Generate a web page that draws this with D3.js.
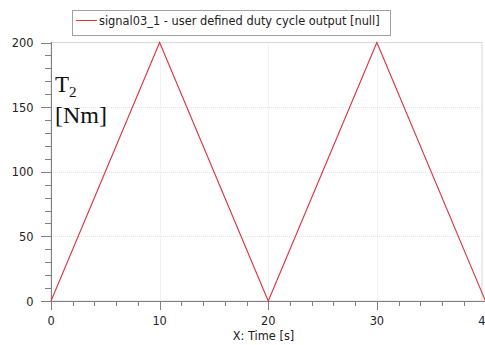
<!DOCTYPE html>
<html><head><meta charset="utf-8">
<script src="https://cdn.jsdelivr.net/npm/d3@7"></script>
<style>body{margin:0;background:#fff}svg{display:block}</style>
</head><body>
<script>
const timeValues = [0, 10, 20, 30, 40];
const signalValues = [0, 200, 0, 200, 0];
const xTicks = [0, 10, 20, 30, 40];
const yTicks = [0, 50, 100, 150, 200];
const legendLabel = "signal03_1 - user defined duty cycle output [null]";
const xTitle = "X: Time [s]";

const W = 485, H = 345;
const svg = d3.select("body").append("svg").attr("width", W).attr("height", H);
const x = d3.scaleLinear().domain([0, 40]).range([51, 485.5]);
const y = d3.scaleLinear().domain([0, 200]).range([301, 42.5]);
const font = "Tahoma, 'DejaVu Sans', Verdana, sans-serif";
const fs = 11.4;

// frame
svg.append("rect").attr("x", 51).attr("y", 42.5).attr("width", 431).attr("height", 258.5)
  .attr("fill", "none").attr("stroke", "#d8d8d8").attr("stroke-width", 1);

// grid
const g = svg.append("g");
g.selectAll(".gx").data(xTicks.filter(d => d > 0 && d < 40)).enter().append("line")
  .attr("x1", d => Math.round(x(d)) + 0.5).attr("x2", d => Math.round(x(d)) + 0.5)
  .attr("y1", 42.5).attr("y2", 301).attr("stroke", "#e4e4e4").attr("stroke-dasharray", "1,1");
g.selectAll(".gy").data(yTicks.filter(d => d > 0 && d < 200)).enter().append("line")
  .attr("y1", d => Math.round(y(d)) + 0.5).attr("y2", d => Math.round(y(d)) + 0.5)
  .attr("x1", 51).attr("x2", 482).attr("stroke", "#e4e4e4").attr("stroke-dasharray", "1,1");

// axes
const axisColor = "#808080";
const xMinor = d3.range(0, 41, 2);
const yMinor = d3.range(0, 201, 10);
const ax = svg.append("g");
ax.append("line").attr("x1", 51).attr("x2", 485).attr("y1", 301.5).attr("y2", 301.5).attr("stroke", axisColor);
ax.append("line").attr("x1", 51.5).attr("x2", 51.5).attr("y1", 42).attr("y2", 301).attr("stroke", axisColor);
ax.selectAll(".xt").data(xMinor).enter().append("line")
  .attr("x1", d => Math.round(x(d)) + 0.5).attr("x2", d => Math.round(x(d)) + 0.5)
  .attr("y1", 301).attr("y2", d => d % 10 === 0 ? 310 : 306).attr("stroke", axisColor);
ax.selectAll(".yt").data(yMinor).enter().append("line")
  .attr("y1", d => Math.round(y(d)) + 0.5).attr("y2", d => Math.round(y(d)) + 0.5)
  .attr("x1", d => d % 50 === 0 ? 41 : 45).attr("x2", 51).attr("stroke", axisColor);

ax.selectAll(".xl").data(xTicks).enter().append("text")
  .attr("x", d => x(d)).attr("y", 325).attr("text-anchor", "middle")
  .attr("font-family", font).attr("font-size", fs).attr("fill", "#222").text(d => d);
ax.selectAll(".yl").data(yTicks).enter().append("text")
  .attr("x", 33.5).attr("y", d => y(d) + 4.5).attr("text-anchor", "end")
  .attr("font-family", font).attr("font-size", fs).attr("fill", "#222").text(d => d);

svg.append("text").attr("x", 263.5).attr("y", 339.5).attr("text-anchor", "middle")
  .attr("font-family", font).attr("font-size", fs).attr("fill", "#222").text(xTitle);

// y title
const serif = "'Liberation Serif', 'Times New Roman', serif";
const yt = svg.append("text").attr("font-family", serif).attr("font-size", 23).attr("fill", "#111");
yt.append("tspan").attr("x", 55).attr("y", 92).text("T");
yt.append("tspan").attr("y", 96.5).attr("font-size", 15).text("2");
svg.append("text").attr("x", 55).attr("y", 122.5).attr("font-family", serif)
  .attr("font-size", 24).attr("fill", "#111").text("[Nm]");

// line
const pts = timeValues.map((t, i) => [t, signalValues[i]]);
svg.append("path").datum(pts)
  .attr("d", d3.line().x(d => x(d[0])).y(d => y(d[1])))
  .attr("fill", "none").attr("stroke", "#e0343c").attr("stroke-width", 1.1);

// legend
svg.append("rect").attr("x", 72.5).attr("y", 10.5).attr("width", 318).attr("height", 25)
  .attr("fill", "#fff").attr("stroke", "#a0a0a0");
svg.append("line").attr("x1", 76).attr("x2", 97).attr("y1", 20.5).attr("y2", 20.5)
  .attr("stroke", "#e0343c");
svg.append("text").attr("x", 99).attr("y", 24.5).attr("font-family", font).attr("font-size", fs)
  .attr("fill", "#222").text(legendLabel);
</script>
</body></html>
